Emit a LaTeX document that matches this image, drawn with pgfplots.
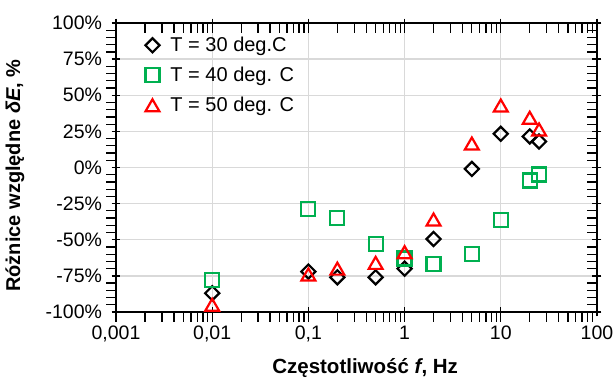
\documentclass[border=0pt]{standalone}
\usepackage{fontspec}
\setmainfont{Liberation Sans}
\usepackage{pgfplots}
\pgfplotsset{compat=1.18}
\definecolor{exgreen}{RGB}{0,176,80}
\definecolor{gridgray}{RGB}{217,217,217}
\begin{document}
\begin{tikzpicture}
\begin{axis}[
  xmode=log,
  scale only axis,
  width=481pt, height=289pt,
  xmin=0.001, xmax=100,
  ymin=-100, ymax=100,
  xtick={0.001,0.01,0.1,1,10,100},
  xticklabels={{0,001},{0,01},{0,1},1,10,100},
  ytick={-100,-75,...,100},
  yticklabel={\pgfmathprintnumber{\tick}\%},
  /pgf/number format/assume math mode=true,
  /pgf/number format/fixed, /pgf/number format/precision=0,
  minor y tick num=4,
  grid=major,
  major grid style={draw=gridgray, line width=1.3pt},
  axis line style={line width=1.8pt, black},
  tick align=center,
  major tick length=9pt,
  minor tick length=10pt,
  tick style={black, line width=1.3pt},
  every minor x tick/.append style={yshift=-5pt},
  every minor y tick/.append style={xshift=-5pt},
  ticklabel style={font=\fontsize{19.5}{23}\selectfont},
  xticklabel style={yshift=-6pt},
  yticklabel style={xshift=-6pt},
  xlabel={\textbf{Częstotliwość \textit{f}, Hz}},
  ylabel={\textbf{Różnice względne \textit{δE}, \%}},
  xlabel style={font=\fontsize{20.5}{24}\selectfont, at={(axis description cs:0.518,-0.194)}, anchor=center},
  ylabel style={font=\fontsize{20}{24}\selectfont, at={(axis description cs:-0.210,0.472)}, anchor=center, inner sep=0pt},
  legend style={draw=none, fill=none, at={(axis description cs:0.0525,0.965)}, anchor=north west,
    font=\fontsize{20}{24}\selectfont, row sep=10pt},
  legend cell align=left,
  legend image code/.code={\path[draw=none] (-8pt,-1pt) rectangle (16pt,1pt); \draw[#1] plot coordinates {(0pt,0pt)};},
]
\addplot[only marks, mark=square, mark size=5pt, mark options={rotate=45, line width=2.2pt, draw=black, fill=none}] coordinates {
(0.01,-87) (0.1,-72) (0.2,-76) (0.5,-76) (1,-70) (2,-49.5) (5,-1) (10,23.3) (20,21.5) (25,18)};
\addlegendentry{T = 30 deg.C}
\addplot[only marks, mark=square, mark size=7pt, mark options={line width=2.2pt, draw=exgreen, fill=none}] coordinates {
(0.01,-77.6) (0.1,-28.5) (0.2,-35) (0.5,-53) (1,-63) (2,-67) (5,-60) (10,-36.5) (20,-9) (25,-4.8)};
\addlegendentry{T = 40 deg. C}
\addplot[only marks, mark=triangle, mark size=8pt, mark options={line width=2.2pt, draw=red, fill=none, yshift=-2pt}] coordinates {
(0.01,-95) (0.1,-74) (0.2,-70) (0.5,-66) (1,-58.6) (2,-36) (5,16.6) (10,42.9) (20,34.4) (25,26.3)};
\addlegendentry{T = 50 deg. C}
\coordinate (bl) at (axis description cs:-0.2412,-0.2284);
\coordinate (tr) at (axis description cs:1.0333,1.0796);
\end{axis}
\pgfresetboundingbox
\path (bl) rectangle (tr);
\end{tikzpicture}
\end{document}
